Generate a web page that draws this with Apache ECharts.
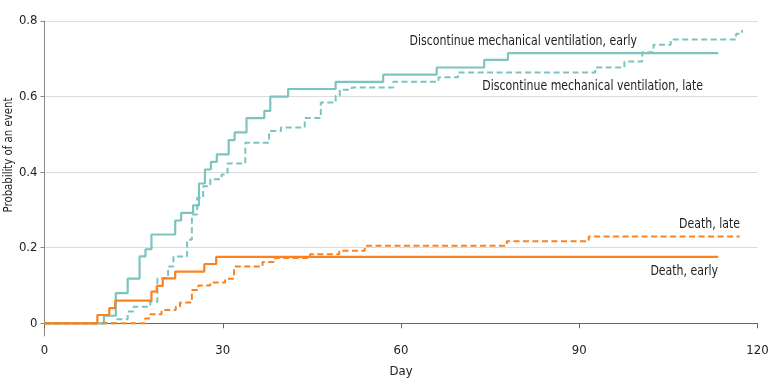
<!DOCTYPE html>
<html>
<head>
<meta charset="utf-8">
<script src="https://cdn.jsdelivr.net/npm/echarts@6/dist/echarts.min.js"></script>
<style>
html,body{margin:0;padding:0;background:#fff;}
#chart{width:780px;height:391px;}
</style>
</head>
<body>
<div id="chart"></div>
<script>
// ---- data ----
var xTicks = [0, 30, 60, 90, 120];
var yTicks = [0, 0.2, 0.4, 0.6, 0.8];

var ventEarlyDays = [0,10,12,14,16,17,18,22,23,25,26,27,28,29,31,32,34,37,38,41,49,57,66,74,78,113.4];
var ventEarlyVals = [0,0.02,0.08,0.118,0.177,0.196,0.235,0.272,0.292,0.312,0.37,0.407,0.427,0.447,0.485,0.505,0.543,0.562,0.6,0.62,0.639,0.658,0.677,0.697,0.715,0.715];

var ventLateDays = [0,12,14,15,17.8,19,20.8,21.7,24,24.8,25.7,26.7,27.9,29.8,30.8,33.8,37.8,39.8,43.8,46.5,49,49.7,51.7,58.7,66.3,69.6,92.7,97.6,100.6,102.5,105.4,116.4,117.4];
var ventLateVals = [0,0.011,0.031,0.044,0.057,0.119,0.15,0.177,0.221,0.288,0.332,0.363,0.381,0.394,0.423,0.478,0.509,0.518,0.543,0.584,0.602,0.618,0.624,0.639,0.651,0.664,0.677,0.693,0.717,0.737,0.751,0.766,0.776];

var deathEarlyDays = [0,8.9,10.9,11.9,18,18.9,19.9,22,26.9,28.9,113.4];
var deathEarlyVals = [0,0.022,0.04,0.06,0.084,0.099,0.119,0.137,0.157,0.176,0.176];

var deathLateDays = [0,16.9,17.8,19.7,22.1,22.8,24.8,25.9,27.9,30.4,31.9,36.7,38.8,44.7,49.6,53.9,77.8,91.6,117];
var deathLateVals = [0,0.013,0.024,0.035,0.044,0.055,0.088,0.1,0.108,0.118,0.15,0.162,0.173,0.183,0.192,0.205,0.217,0.23,0.23];

var labels = {
  ventEarly: 'Discontinue mechanical ventilation, early',
  ventLate: 'Discontinue mechanical ventilation, late',
  deathLate: 'Death, late',
  deathEarly: 'Death, early',
  yTitle: 'Probability of an event',
  xTitle: 'Day'
};

function pairs(xs, ys){ return xs.map(function(x,i){ return [x, ys[i]]; }); }

var FONT = "'DejaVu Sans Condensed','Liberation Sans Narrow','Open Sans',sans-serif";
var TEAL = '#7cc4c0';
var ORANGE = '#fb821e';
var TXT = '#222';

function note(text, x, y){
  return { type: 'text', x: x, y: y, scaleX: 0.87,
    style: { text: text, font: '14px ' + FONT, fill: TXT, align: 'right', verticalAlign: 'middle' } };
}

var chart = echarts.init(document.getElementById('chart'), null, {renderer:'canvas'});
chart.setOption({
  animation: false,
  backgroundColor: '#fff',
  textStyle: { fontFamily: FONT },
  grid: { left: 44.5, right: 22.5, top: 21, bottom: 55, containLabel: false },
  xAxis: {
    type: 'value', min: 0, max: 120, interval: 30,
    name: labels.xTitle, nameLocation: 'middle', nameGap: 29,
    nameTextStyle: { fontFamily: FONT, fontSize: 13, color: TXT },
    axisLine: { show: true, lineStyle: { color: '#666', width: 1 } },
    axisTick: { show: true, length: 5, lineStyle: { color: '#666' } },
    axisLabel: { fontFamily: FONT, fontSize: 13, color: TXT, margin: 8 },
    splitLine: { show: false }
  },
  yAxis: {
    type: 'value', min: -0.0336, max: 0.8,
    axisLine: { show: true, lineStyle: { color: '#888', width: 1 } },
    axisTick: { show: true, length: 4, customValues: yTicks, lineStyle: { color: '#888' } },
    axisLabel: { fontFamily: FONT, fontSize: 13, color: TXT, margin: 7, customValues: yTicks,
      formatter: function(v){ return v === 0 ? '0' : v.toFixed(1); } },
    splitLine: { show: true, lineStyle: { color: '#dcdcdc', width: 1.2 } }
  },
  graphic: [
    { type: 'text', x: 9, y: 155, rotation: Math.PI/2, scaleX: 0.87,
      style: { text: labels.yTitle, font: '13px ' + FONT, fill: TXT, align: 'center', verticalAlign: 'middle' } },
    note(labels.ventEarly, 637, 41.5),
    note(labels.ventLate, 703, 86.7),
    note(labels.deathLate, 740, 224.7),
    note(labels.deathEarly, 718, 271.3)
  ],
  series: [
    { name: labels.ventLate, type: 'line', step: 'end', showSymbol: false, data: pairs(ventLateDays, ventLateVals),
      lineStyle: { color: TEAL, width: 2, type: [6, 3.5] } },
    { name: labels.ventEarly, type: 'line', step: 'end', showSymbol: false, data: pairs(ventEarlyDays, ventEarlyVals),
      lineStyle: { color: TEAL, width: 2.2, type: 'solid' } },
    { name: labels.deathLate, type: 'line', step: 'end', showSymbol: false, data: pairs(deathLateDays, deathLateVals),
      lineStyle: { color: ORANGE, width: 2, type: [6, 3.5] } },
    { name: labels.deathEarly, type: 'line', step: 'end', showSymbol: false, data: pairs(deathEarlyDays, deathEarlyVals),
      lineStyle: { color: ORANGE, width: 2.2, type: 'solid' } }
  ]
});
</script>
</body>
</html>
